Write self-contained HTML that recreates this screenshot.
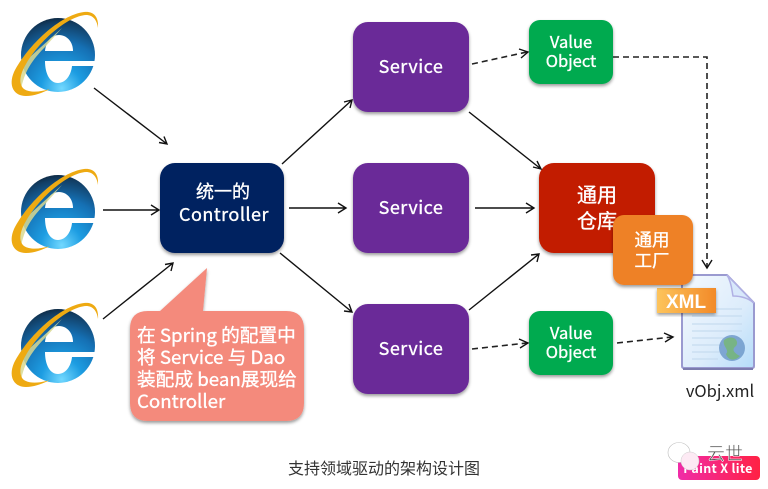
<!DOCTYPE html>
<html><head><meta charset="utf-8"><style>
html,body{margin:0;padding:0;background:#fff}
svg{display:block}
text{font-family:"Noto Sans CJK SC","Liberation Sans",sans-serif;text-anchor:middle;fill:#fff}
.m{stroke:#fff;stroke-width:.35}
.a{fill:none;stroke:#111;stroke-width:1.4}
.d{fill:none;stroke:#222;stroke-width:1.6;stroke-dasharray:6 4}
</style></head><body>
<svg width="768" height="489" viewBox="0 0 768 489" xmlns="http://www.w3.org/2000/svg">
<defs>
<filter id="s" x="-10%" y="-10%" width="120%" height="125%"><feDropShadow dx="0" dy="2" stdDeviation="1.5" flood-color="#000" flood-opacity=".4"/></filter>
<radialGradient id="g" cx=".55" cy=".95" r="1"><stop offset="0" stop-color="#72d8ff"/><stop offset=".28" stop-color="#1d9de2"/><stop offset=".62" stop-color="#1570b4"/><stop offset=".88" stop-color="#123f66"/><stop offset="1" stop-color="#0c1e30"/></radialGradient>
<linearGradient id="x" x1="0" x2="1"><stop offset="0" stop-color="#fdc45c"/><stop offset="1" stop-color="#f28a28"/></linearGradient>
<linearGradient id="f" x1="0" y1="0" x2="1" y2="1"><stop offset="0" stop-color="#f4f9fe"/><stop offset=".6" stop-color="#dcecfb"/><stop offset="1" stop-color="#b4dcfa"/></linearGradient>
<linearGradient id="p" x1="0" x2="1"><stop offset="0" stop-color="#f02ca8"/><stop offset="1" stop-color="#ff2244"/></linearGradient>
<g id="ie">
<circle cx="58" cy="55" r="37" fill="url(#g)"/>
<path d="M45 51C46 41 52 35 59 35C67 35 73 42 73 51Z" fill="#fff"/>
<path d="M45 61H96V66H72C71 76 65 83 58 83C50 83 45 74 45 61Z" fill="#fff"/>
<path d="M62 28L20 66C14 76 16 86 21 90C24 72 32 60 46 46Z" fill="#d8d890" opacity=".85"/>
<path d="M98 28C99 15 92 11 84 12C60 15 28 45 14 72C8 86 14 96 26 96C34 96 42 93 50 89C40 92 30 93 24 89C18 84 20 74 26 64C40 40 68 16 86 15C93 15 97 20 98 28Z" fill="#eeaa12"/>
</g>
</defs>

<use href="#ie"/><use href="#ie" y="157"/><use href="#ie" y="291"/>

<!-- nodes -->
<g filter="url(#s)">
<rect x="160" y="163" width="124" height="90" rx="15" fill="#002060"/>
<rect x="353" y="22" width="116" height="90" rx="15" fill="#6a2c98"/>
<rect x="353" y="163" width="116" height="90" rx="15" fill="#6a2c98"/>
<rect x="353" y="304" width="116" height="90" rx="15" fill="#6a2c98"/>
<rect x="529" y="20" width="84" height="64" rx="11" fill="#04aa4f"/>
<rect x="529" y="311" width="84" height="64" rx="11" fill="#04aa4f"/>
<rect x="539" y="163" width="116" height="90" rx="15" fill="#c21a00"/>
</g>
<g class="m">
<text x="223" y="198" font-size="18">统一的</text>
<text x="224" y="221" font-size="18" letter-spacing=".5">Controller</text>
<text x="411" y="73" font-size="18" letter-spacing=".5">Service</text>
<text x="411" y="214" font-size="18" letter-spacing=".5">Service</text>
<text x="411" y="355" font-size="18" letter-spacing=".5">Service</text>
<text x="571" y="48" font-size="16.5">Value</text>
<text x="571" y="67" font-size="16.5">Object</text>
<text x="571" y="339" font-size="16.5">Value</text>
<text x="571" y="358" font-size="16.5">Object</text>
<text x="597" y="202" font-size="20">通用</text>
<text x="597" y="228" font-size="20">仓库</text>
</g>

<!-- callout -->
<path filter="url(#s)" d="M148 311H160L207 268L203 311H286Q304 311 304 329V403Q304 421 286 421H148Q130 421 130 403V329Q130 311 148 311Z" fill="#f48a7c"/>
<g class="m" font-size="18.7">
<text x="137" y="342" style="text-anchor:start">在 Spring 的配置中</text>
<text x="137" y="364" style="text-anchor:start">将 Service 与 Dao</text>
<text x="137" y="386" style="text-anchor:start">装配成 bean展现给</text>
<text x="137" y="408" style="text-anchor:start">Controller</text>
</g>

<!-- file icon -->
<path d="M684 275H727L754 303V366Q754 368 752 368H684Q682 368 682 366V277Q682 275 684 275Z" fill="url(#f)" stroke="#9a9ad0" stroke-width="2" stroke-linejoin="round"/>
<path d="M683 369H753" stroke="#7c7cae" stroke-width="2"/>
<path d="M727 275C732 283 732 292 733 296C740 296 748 298 754 303Z" fill="#d8e8fb" stroke="#b0b0e4" stroke-width="1.5"/>
<g stroke="#c6dcf0" stroke-width="1.2"><path d="M692 309H742M692 316H742M692 324H742M692 331H742M692 338H740M692 345H722M692 352H720M692 359H718"/></g>
<g opacity=".8"><circle cx="732" cy="348" r="13" fill="#6a96c8"/><path d="M724 340C732 334 740 340 736 346C730 350 736 354 740 356C734 362 728 360 726 354C730 350 722 346 724 340Z" fill="#62a868"/></g>
<rect x="657" y="288" width="59" height="25" fill="url(#x)" filter="url(#s)"/>
<text x="686" y="308" font-size="19" font-weight="700" style="font-family:'Liberation Sans',sans-serif">XML</text>

<!-- orange -->
<rect x="613" y="215" width="80" height="70" rx="11" fill="#ee8128" filter="url(#s)"/>
<g class="m">
<text x="652" y="246" font-size="17.5">通用</text>
<text x="652" y="267" font-size="17.5">工厂</text>
</g>

<!-- arrows -->
<path class="a" d="M94 88L167 144M159 142.5L167 144L164 136.5"/>
<path class="a" d="M103 210H159M151 205L159 210L151 215"/>
<path class="a" d="M103 319L173 263M165 264.5L173 263L171 271"/>
<path class="a" d="M282 164L352 100M344 102L352 100L350 108"/>
<path class="a" d="M289 208H346M338 203L346 208L338 213"/>
<path class="a" d="M280 253L352 312M349 304L352 312L344 311"/>
<path class="a" d="M469 112L541 169M537 161L541 169L533 167"/>
<path class="a" d="M475 208H534M526 203L534 208L526 213"/>
<path class="a" d="M469 310L539 254M531 255L539 254L537 262"/>
<path class="d" d="M472 64L527 52"/><path class="a" d="M519 49L528 52L521 58"/>
<path class="d" d="M472 349L527 343"/><path class="a" d="M519 339L528 343L520 348"/>
<path class="d" d="M613 57H707V267"/><path class="a" d="M702 260L707 268L712 260"/>
<path class="d" d="M617 343L672 337"/><path class="a" d="M664 333L673 337L665 342"/>

<text x="720" y="397" font-size="16.5" style="fill:#222">vObj.xml</text>
<text x="384" y="474" font-size="16" style="fill:#333">支持领域驱动的架构设计图</text>

<!-- watermark -->
<rect x="678" y="456" width="82" height="24" rx="4" fill="url(#p)"/>
<text x="718" y="473" font-size="12.5" font-weight="700" letter-spacing=".3">Paint X lite</text>
<ellipse cx="679" cy="452.500" rx="11" ry="10" fill="#fff" stroke="#bbb" stroke-width=".6"/>
<ellipse cx="690" cy="461" rx="9" ry="9" fill="#fdeaf4" stroke="#ccc" stroke-width=".5"/>
<text x="725" y="460" font-size="18" style="fill:#555;stroke:#fff;stroke-width:.5">云世</text>
</svg>
</body></html>
